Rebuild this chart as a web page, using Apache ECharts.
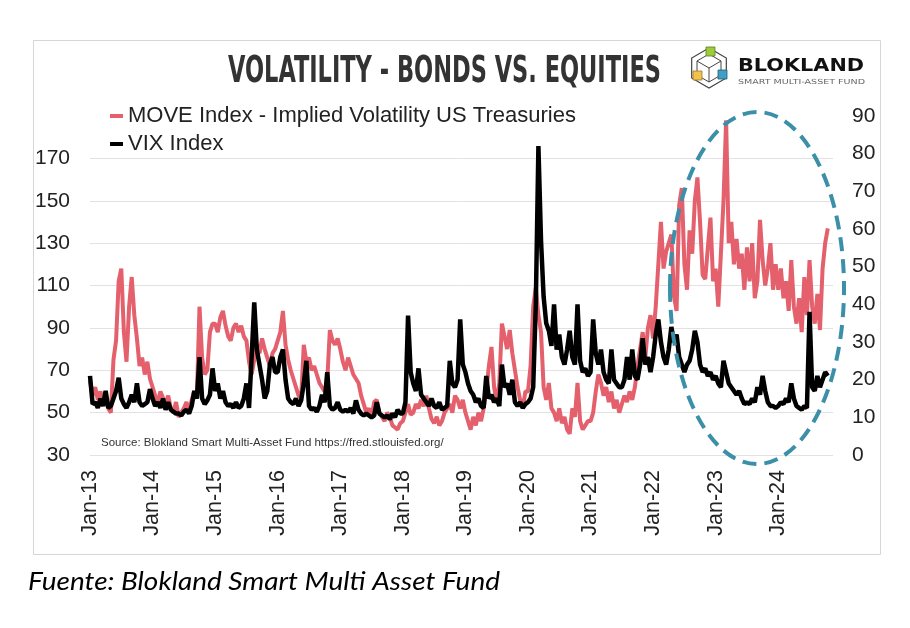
<!DOCTYPE html>
<html>
<head>
<meta charset="utf-8">
<script src="https://cdn.jsdelivr.net/npm/echarts@6/dist/echarts.min.js"></script>
<style>
html,body{margin:0;padding:0;background:#fff;}
#chart{width:910px;height:628px;}
</style>
</head>
<body>
<div id="chart"></div>
<script>
// Semi-monthly readings, Jan 2013 .. Oct 2024
const moveValues = [
  65,58,62,56,60,55,58,52,50,75,84,112,118,88,74,100,114,96,85,72,76,68,74,66,          // 2013
  62,58,55,60,57,54,58,52,50,55,48,50,52,55,50,56,60,58,100,76,68,70,88,92,             // 2014
  92,88,95,98,91,86,84,90,92,88,91,86,84,74,68,75,82,78,85,80,76,72,78,80,              // 2015
  84,88,98,82,75,70,66,62,58,57,82,74,76,70,72,68,64,62,60,65,89,84,82,85,              // 2016
  80,74,70,76,72,68,66,64,58,54,50,52,48,55,56,50,48,46,50,48,44,43,42,45,              // 2017
  46,50,54,49,50,54,52,56,53,58,52,47,45,48,44,46,50,52,54,50,58,56,52,56,              // 2018
  50,46,42,48,44,50,46,52,60,72,81,62,55,64,92,86,80,89,78,70,62,56,52,60,              // 2019
  60,72,100,109,96,88,62,56,64,52,50,46,52,45,48,42,40,52,48,64,46,42,44,46,            // 2020
  46,50,60,68,64,58,62,55,60,52,56,50,54,58,55,60,56,62,72,80,88,76,90,96,              // 2021
  85,100,120,140,118,126,130,134,105,98,148,156,120,108,136,125,150,161,140,115,113,128,142,112, // 2022
  118,100,125,150,188,130,140,120,132,118,125,108,128,112,130,104,112,141,122,110,118,130,108,120, // 2023
  108,118,104,112,98,122,100,92,104,88,114,96,122,100,92,106,89,118,130,137             // 2024
];
const vixValues = [
  21,13.5,14,12.5,15,13,17,12.5,13,15,17,20.5,15,13.5,12.5,14,16,14,19,14,13,13.5,14,17.5, // 2013
  15,13,14,12.5,15,12,14,12,11.5,11,11,10.5,11.5,12,11,13,17,15,26,15,13.5,14.5,16,23,     // 2014
  17,19,15,17,14,13,13.5,12.5,14,12.5,13,15,19,12.5,26,40.5,28,24,20,15,17,24,26,22,       // 2015
  22,26,28,20,15,14,13.5,15,13,14.5,19,25,13,12,12.5,11.5,13,16,14,22,13,12,12.5,14,       // 2016
  12,11.5,12,11.5,12.5,11,14.5,12,11,10.5,11,10.5,10,10.5,14,11,10.5,10,10.5,9.5,11,10,12,11, // 2017
  11,14,37,22,19,17,23,16,15,14,13,15,13,12.5,14,12,12.5,13,25,19,18,20,36,24,             // 2018
  22,19,17,16,14,15,13,12.5,21,15,16,14,15,13,24,18,19,16,20,14,13,14,12.5,13.5,           // 2019
  14,15,18,40,82,57,42,35,33,29,40,28,32,26,24,28,33,26,24,40,25,22,23,21,                 // 2020
  22,36,27,24,28,22,20,19,28,20,19,18,18,20,26,20,28,21,20,24,31,24,26,22,                 // 2021
  26,32,36,30,26,24,28,34,30,32,26,24,22,24,25,28,33,30,24,22,23,21,22,20,                 // 2022
  21,19,18,25,22,19,18,17,16,17,15,13.5,14,13.5,15,14,18,16,21,17,14,13,13,12.5,           // 2023
  13,14,13.5,15,14,19,15,13,12.5,12,13,12.5,38,18,17,21,18,20,22,21                        // 2024
];
const tickLabels = ['Jan-13','Jan-14','Jan-15','Jan-16','Jan-17','Jan-18','Jan-19','Jan-20','Jan-21','Jan-22','Jan-23','Jan-24'];
const leftTicks = {min: 30, max: 190, step: 20, lastShown: 170};
const rightTicks = {min: 0, max: 90, step: 10};

// category dates: 1st and 16th of each month, extending to late Nov 2024
const categories = [];
for (let k = 0; k < 286; k++) {
  const y = 2013 + Math.floor(k / 24);
  const m = Math.floor((k % 24) / 2) + 1;
  const d = (k % 2) ? 16 : 1;
  categories.push(y + '-' + String(m).padStart(2, '0') + '-' + String(d).padStart(2, '0'));
}

function fit(text, font, target) {
  const ctx = document.createElement('canvas').getContext('2d');
  ctx.font = font;
  return target / ctx.measureText(text).width;
}

const RED = '#e3606c';
const GRID = '#e2e2e2';
const titleText = 'VOLATILITY - BONDS VS. EQUITIES';
const titleFont = 'bold 37px "DejaVu Sans Condensed", "DejaVu Sans"';
const brandFont = 'bold 18px "DejaVu Sans"';
const subFont = '7px "DejaVu Sans"';
const capFont = 'italic 26px Lato';

const nLines = (leftTicks.max - leftTicks.min) / leftTicks.step + 1;
const splitColors = [];
for (let i = 0; i < nLines; i++) splitColors.push(i === nLines - 1 ? 'rgba(0,0,0,0)' : GRID);

const chart = echarts.init(document.getElementById('chart'), null, {renderer: 'canvas'});
const hx = 709, hy = 68, hr = 20;
const hex = [];
for (let i = 0; i < 6; i++) {
  const a = Math.PI / 2 + i * Math.PI / 3;
  hex.push([hx + hr * Math.cos(a), hy - hr * Math.sin(a)]);
}

chart.setOption({
  animation: false,
  backgroundColor: '#fff',
  grid: {left: 90, right: 77, top: 116, bottom: 173},
  legend: {
    orient: 'vertical', left: 105, top: 99,
    icon: 'rect', itemWidth: 13, itemHeight: 4, itemGap: 4,
    textStyle: {fontFamily: '"Liberation Sans", Arial', fontSize: 22, color: '#222', lineHeight: 24}
  },
  xAxis: {
    type: 'category', data: categories, boundaryGap: false,
    axisLine: {show: false}, axisTick: {show: false}, splitLine: {show: false},
    axisLabel: {
      interval: 23, rotate: 90, margin: 15,
      fontFamily: '"Liberation Sans", Arial', fontSize: 21.5, color: '#222',
      formatter: (v, i) => tickLabels[Math.round(i / 24)] || ''
    }
  },
  yAxis: [{
    type: 'value', position: 'left', min: leftTicks.min, max: leftTicks.max, interval: leftTicks.step,
    axisLine: {show: false}, axisTick: {show: false},
    splitLine: {lineStyle: {color: splitColors, width: 1}},
    axisLabel: {margin: 20, fontFamily: '"Liberation Sans", Arial', fontSize: 21, color: '#222',
      formatter: v => v > leftTicks.lastShown ? '' : String(v)}
  }, {
    type: 'value', position: 'right', min: rightTicks.min, max: rightTicks.max, interval: rightTicks.step,
    axisLine: {show: false}, axisTick: {show: false}, splitLine: {show: false},
    axisLabel: {margin: 19, fontFamily: '"Liberation Sans", Arial', fontSize: 21, color: '#222'}
  }],
  series: [{
    name: 'MOVE Index - Implied Volatility US Treasuries', type: 'line', yAxisIndex: 0,
    data: moveValues, showSymbol: false, symbol: 'none',
    lineStyle: {color: RED, width: 4}, itemStyle: {color: RED}, z: 2
  }, {
    name: 'VIX Index', type: 'line', yAxisIndex: 1,
    data: vixValues, showSymbol: false, symbol: 'none',
    lineStyle: {color: '#000', width: 4.5}, itemStyle: {color: '#000'}, z: 3
  }],
  graphic: [
    {type: 'rect', shape: {x: 33.5, y: 40.5, width: 847, height: 514}, style: {fill: 'none', stroke: '#d6d6d6', lineWidth: 1}, silent: true},
    {type: 'text', x: 228, y: 72, scaleX: fit(titleText, titleFont, 433),
      style: {text: titleText, font: titleFont, fill: '#333', verticalAlign: 'middle'}},
    {type: 'polygon', shape: {points: hex}, style: {fill: 'none', stroke: '#444', lineWidth: 1.2}},
    {type: 'polyline', shape: {points: [[hx, hy], [hx, hy + 14]]}, style: {stroke: '#444', lineWidth: 1, fill: 'none'}},
    {type: 'polyline', shape: {points: [[hx - 12, hy - 7], [hx, hy], [hx + 12, hy - 7], [hx, hy - 14], [hx - 12, hy - 7], [hx - 12, hy + 7], [hx, hy + 14], [hx + 12, hy + 7], [hx + 12, hy - 7]]}, style: {stroke: '#444', lineWidth: 1, fill: 'none'}},
    {type: 'rect', shape: {x: 706, y: 47, width: 9, height: 9}, style: {fill: '#9ccc3c', stroke: '#5b7d1e', lineWidth: 0.8}},
    {type: 'rect', shape: {x: 693, y: 71, width: 9, height: 9}, style: {fill: '#f2c14e', stroke: '#9a7a22', lineWidth: 0.8}},
    {type: 'rect', shape: {x: 718, y: 70, width: 9, height: 9}, style: {fill: '#3f9fc4', stroke: '#1f5d77', lineWidth: 0.8}},
    {type: 'text', x: 738, y: 66, scaleX: fit('BLOKLAND', brandFont, 126),
      style: {text: 'BLOKLAND', font: brandFont, fill: '#111', verticalAlign: 'middle'}},
    {type: 'text', x: 738, y: 82, scaleX: fit('SMART MULTI-ASSET FUND', subFont, 127),
      style: {text: 'SMART MULTI-ASSET FUND', font: subFont, fill: '#666', verticalAlign: 'middle'}},
    {type: 'text', x: 101, y: 443,
      style: {text: 'Source: Blokland Smart Multi-Asset Fund https://fred.stlouisfed.org/', font: '11.5px "Liberation Sans", Arial', fill: '#333', verticalAlign: 'middle'}},
    {type: 'ellipse', shape: {cx: 757, cy: 288, rx: 87, ry: 176}, z: 10,
      style: {fill: 'none', stroke: '#3b8fa8', lineWidth: 4, lineDash: [14, 8]}},
    {type: 'text', x: 28, y: 582, scaleX: fit('Fuente: Blokland Smart Multi Asset Fund', capFont, 472),
      style: {text: 'Fuente: Blokland Smart Multi Asset Fund', font: capFont, fill: '#000', verticalAlign: 'middle'}}
  ]
});
</script>
</body>
</html>
